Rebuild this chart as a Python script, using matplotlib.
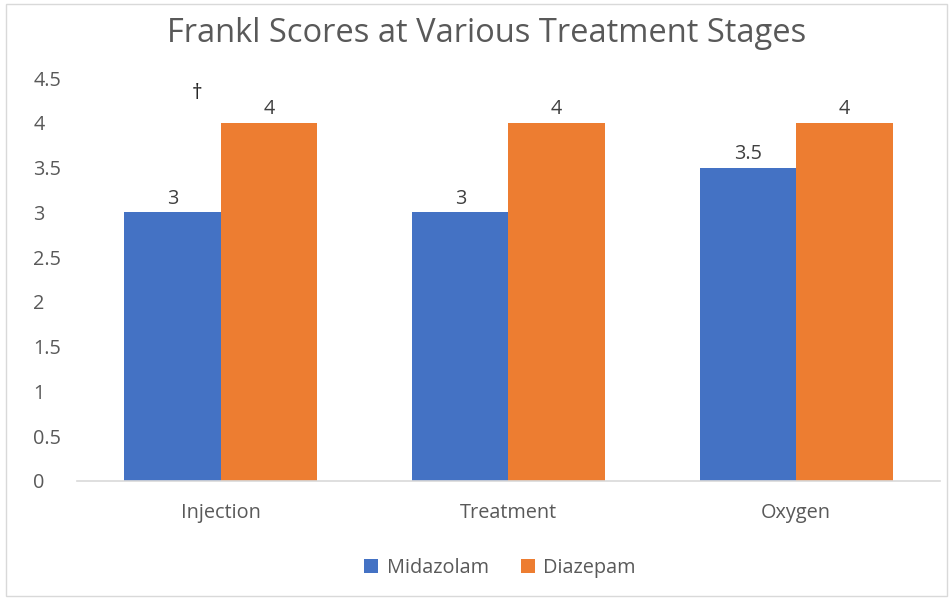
import matplotlib
matplotlib.use("Agg")
import matplotlib.pyplot as plt
import numpy as np
from matplotlib.patches import Rectangle

categories = ["Injection", "Treatment", "Oxygen"]
midazolam = [3, 3, 3.5]
diazepam = [4, 4, 4]
mid_labels = ["3", "3", "3.5"]
dia_labels = ["4", "4", "4"]
yticks = [0, 0.5, 1, 1.5, 2, 2.5, 3, 3.5, 4, 4.5]
ytick_labels = ["0", "0.5", "1", "1.5", "2", "2.5", "3", "3.5", "4", "4.5"]

plt.rcParams['font.family'] = ['Open Sans', 'DejaVu Sans']
W, H = 953, 600
fig = plt.figure(figsize=(W/100, H/100), dpi=100)
ax = fig.add_axes([77/W, 119/H, (940-77)/W, (481-78)/H])

blue = "#4472C4"
orange = "#ED7D31"
gray = "#595959"
fs = 14.3
x = np.arange(len(categories))
bw = 0.335
b1 = ax.bar(x - bw/2, midazolam, bw, color=blue, label="Midazolam")
b2 = ax.bar(x + bw/2, diazepam, bw, color=orange, label="Diazepam")
for rect, lab in zip(b1, mid_labels):
    ax.text(rect.get_x() + rect.get_width()/2, rect.get_height() + 0.04, lab,
            ha='center', va='bottom', fontsize=fs, color="#404040")
for rect, lab in zip(b2, dia_labels):
    ax.text(rect.get_x() + rect.get_width()/2, rect.get_height() + 0.04, lab,
            ha='center', va='bottom', fontsize=fs, color="#404040")
ax.text(-0.083, 4.33, "†", ha='center', va='center', fontsize=15, color="#262626")

ax.set_xlim(-0.5, 2.5)
ax.set_ylim(0, 4.5)
ax.set_yticks(yticks)
ax.set_yticklabels(ytick_labels)
ax.set_xticks(x)
ax.set_xticklabels(categories)
for s in ['top', 'right', 'left']:
    ax.spines[s].set_visible(False)
ax.spines['bottom'].set_color("#d9d9d9")
ax.spines['bottom'].set_linewidth(1.2)
ax.tick_params(axis='y', length=0, pad=31.5, labelsize=fs, labelcolor=gray)
for t in ax.get_yticklabels():
    t.set_horizontalalignment('left')
ax.tick_params(axis='x', length=0, pad=16, labelsize=fs, labelcolor=gray)

fig.text(487/W, 1 - 34/H, "Frankl Scores at Various Treatment Stages", ha='center', va='center',
         fontsize=23.5, color=gray)

leg = fig.legend(handles=[b1, b2], loc='center', bbox_to_anchor=(500/W, 1 - 568/H), ncol=2,
                 frameon=False, fontsize=fs, handlelength=0.7, handleheight=0.7,
                 columnspacing=1.6, handletextpad=0.45)
for t in leg.get_texts():
    t.set_color(gray)

fig.patches.append(Rectangle((6/W, 4/H), (W-12)/W, (H-8)/H, transform=fig.transFigure,
                             fill=False, edgecolor="#d9d9d9", linewidth=1))
fig.savefig("out.png", dpi=100)
